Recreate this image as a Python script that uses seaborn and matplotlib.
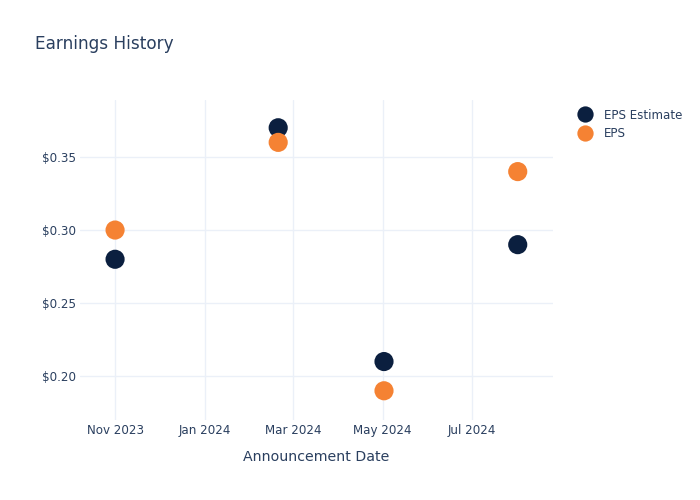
import matplotlib
matplotlib.use("Agg")
import matplotlib.pyplot as plt
import matplotlib.dates as mdates
import seaborn as sns
import pandas as pd
from matplotlib.ticker import FuncFormatter

dates = ["2023-11-01", "2024-02-20", "2024-05-02", "2024-08-01"]
eps_estimate = [0.28, 0.37, 0.21, 0.29]
eps_actual = [0.30, 0.36, 0.19, 0.34]
series_names = ["EPS Estimate", "EPS"]
colors = ["#0b1f3f", "#f58233"]

df = pd.DataFrame({
    "date": pd.to_datetime(dates * 2),
    "value": eps_estimate + eps_actual,
    "series": [series_names[0]] * len(dates) + [series_names[1]] * len(dates),
})

sns.set_theme(style="white")
plt.rcParams["font.family"] = ["DejaVu Sans"]
text_color = "#2a3f5f"
grid_color = "#ebf0f8"

fig = plt.figure(figsize=(7, 5), dpi=100)
ax = fig.add_axes([0.114, 0.16, 0.676, 0.64])

sns.scatterplot(data=df, x="date", y="value", hue="series", palette=colors,
                s=190, linewidth=0, ax=ax, legend=True, zorder=3)

ax.set_xlim(pd.Timestamp("2023-10-08"), pd.Timestamp("2024-08-25"))
ax.set_ylim(0.170, 0.389)
ax.set_xticks(pd.to_datetime(["2023-11-01", "2024-01-01", "2024-03-01", "2024-05-01", "2024-07-01"]))
ax.xaxis.set_major_formatter(mdates.DateFormatter("%b %Y"))
ax.set_yticks([0.20, 0.25, 0.30, 0.35])
ax.yaxis.set_major_formatter(FuncFormatter(lambda v, p: f"${v:.2f}"))
ax.grid(True, color=grid_color, linewidth=1)
ax.set_axisbelow(True)
for s in ax.spines.values():
    s.set_visible(False)
ax.tick_params(axis="both", colors=text_color, labelsize=8.6, length=0)
ax.tick_params(axis="y", pad=3)
ax.tick_params(axis="x", pad=3)
ax.set_xlabel("Announcement Date", color=text_color, fontsize=10.2, labelpad=9.5)
ax.set_ylabel("")

leg = ax.legend(loc="upper left", bbox_to_anchor=(1.02, 1.007), frameon=False,
                fontsize=8.6, handletextpad=0.6, labelspacing=0.45, markerscale=0.85)
for t in leg.get_texts():
    t.set_color(text_color)

fig.text(0.05, 0.912, "Earnings History", color=text_color, fontsize=12.2, va="center")

fig.savefig("out.png", dpi=100)
